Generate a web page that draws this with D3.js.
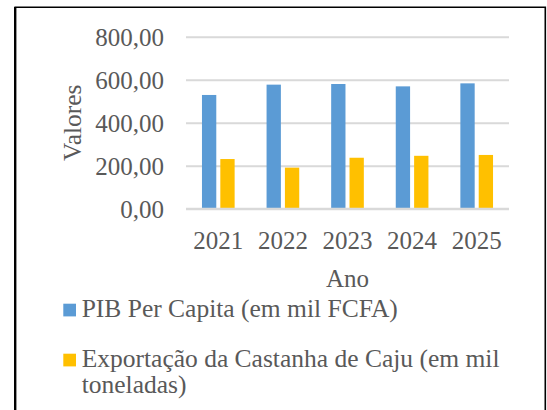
<!DOCTYPE html>
<html>
<head>
<meta charset="utf-8">
<script src="https://cdn.jsdelivr.net/npm/d3@7"></script>
<style>
  body { margin: 0; background: #fff; }
  text { font-family: "Liberation Serif", "Times New Roman", serif; fill: #595959; }
</style>
</head>
<body>
<div id="wrapper"></div>
<script>
// Data
var years = ["2021", "2022", "2023", "2024", "2025"]
var pibPerCapita = [529, 577, 580, 569, 583]
var exportacaoCaju = [231, 191, 237, 246, 250]
var yTicks = [0, 200, 400, 600, 800]
var seriesKeys = ["pib", "caju"]

var color = d3.scaleOrdinal()
  .domain(seriesKeys)
  .range(["#5B9BD5", "#FFC000"])

var rows = years.map(function (y, i) {
  return { year: y, pib: pibPerCapita[i], caju: exportacaoCaju[i] }
})

var width = 547, height = 410
var plot = { left: 186, right: 509, top: 36.7, bottom: 208.7 }
var serif = "'Liberation Serif', 'Times New Roman', serif"

var svg = d3.select("#wrapper")
  .append("svg")
  .attr("width", width)
  .attr("height", height)

// Frame (no bottom edge, it is cut off)
svg.append("path")
  .attr("d", "M15.2,410 V7.2 H545.3 V410")
  .attr("fill", "none")
  .attr("stroke", "#000")
  .attr("stroke-width", 1.6)
svg.append("line")
  .attr("x1", 15.2).attr("x2", 15.2).attr("y1", 7).attr("y2", 410)
  .attr("stroke", "#000").attr("stroke-width", 2.4)

// Scales
var x0 = d3.scaleBand()
  .domain(years)
  .range([plot.left, plot.right])

var x1 = d3.scaleBand()
  .domain(seriesKeys)
  .range([0, x0.bandwidth()])
  .paddingInner(0.22)
  .paddingOuter(0.87)

var y = d3.scaleLinear()
  .domain([0, 800])
  .range([plot.bottom, plot.top])

var fmt = function (d) { return d3.format(".2f")(d).replace(".", ",") }

// Gridlines + y labels
var yAxis = svg.append("g")
  .attr("transform", "translate(" + plot.left + ",0)")
  .call(d3.axisLeft(y).tickValues(yTicks).tickSize(-(plot.right - plot.left)).tickFormat(fmt).tickPadding(22))
yAxis.attr("font-family", serif)
yAxis.select(".domain").remove()
yAxis.selectAll(".tick line")
  .attr("stroke", "#D9D9D9")
  .attr("stroke-width", 2)
yAxis.selectAll(".tick text")
  .attr("dy", "0.34em")
  .style("font-size", "25px")
  .style("fill", "#595959")

// Bars
svg.append("g")
  .selectAll("g")
  .data(rows)
  .enter()
  .append("g")
  .attr("transform", function (d) { return "translate(" + x0(d.year) + ",0)" })
  .selectAll("rect")
  .data(function (d) { return seriesKeys.map(function (k) { return { key: k, value: d[k] } }) })
  .enter()
  .append("rect")
  .attr("x", function (d) { return x1(d.key) })
  .attr("width", x1.bandwidth())
  .attr("y", function (d) { return y(d.value) })
  .attr("height", function (d) { return y(0) - y(d.value) })
  .attr("fill", function (d) { return color(d.key) })

// redraw baseline on top of bars
svg.append("line")
  .attr("x1", plot.left).attr("x2", plot.right)
  .attr("y1", y(0)).attr("y2", y(0))
  .attr("stroke", "#D9D9D9").attr("stroke-width", 2)

// X labels
var xAxis = svg.append("g")
  .attr("transform", "translate(0," + plot.bottom + ")")
  .call(d3.axisBottom(x0).tickSize(0).tickPadding(0))
xAxis.attr("font-family", serif)
xAxis.select(".domain").remove()
xAxis.selectAll(".tick text")
  .attr("y", 40.3)
  .attr("dy", 0)
  .style("font-size", "25px")
  .style("fill", "#595959")

// Axis titles
svg.append("text")
  .attr("x", (plot.left + plot.right) / 2)
  .attr("y", 287)
  .style("font-size", "25px")
  .style("text-anchor", "middle")
  .text("Ano")

svg.append("text")
  .attr("transform", "translate(81," + ((plot.top + plot.bottom) / 2) + ") rotate(-90)")
  .style("font-size", "25.5px")
  .style("text-anchor", "middle")
  .text("Valores")

// Legend
var legendItems = [
  { key: "pib", lines: ["PIB Per Capita (em mil FCFA)"], y: 316.7 },
  { key: "caju", lines: ["Exportação da Castanha de Caju (em mil", "toneladas)"], y: 366.7 }
]

var legend = svg.append("g")
  .selectAll("g")
  .data(legendItems)
  .enter()
  .append("g")

legend.append("rect")
  .attr("x", 63.3)
  .attr("y", function (d) { return d.y - 13 })
  .attr("width", 12.7)
  .attr("height", 12.7)
  .style("fill", function (d) { return color(d.key) })

legend.append("text")
  .attr("x", 81.7)
  .attr("y", function (d) { return d.y })
  .style("font-size", "25.5px")
  .selectAll("tspan")
  .data(function (d) { return d.lines })
  .enter()
  .append("tspan")
  .attr("x", 81.7)
  .attr("dy", function (d, i) { return i === 0 ? 0 : 26.7 })
  .text(function (d) { return d })
</script>
</body>
</html>
